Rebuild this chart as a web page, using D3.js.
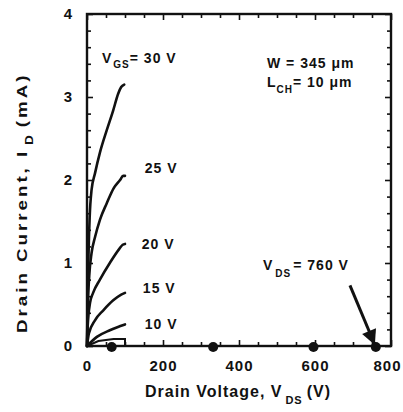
<!DOCTYPE html>
<html>
<head>
<meta charset="utf-8">
<script src="https://cdn.jsdelivr.net/npm/d3@7"></script>
<style>
html,body{margin:0;padding:0;background:#fff;}
svg{display:block;}
text{font-family:"Liberation Sans",Arial,Helvetica,sans-serif;font-weight:bold;fill:#111;}
</style>
</head>
<body>
<svg id="chart" width="403" height="412"></svg>
<script>
// ---- data ----
const xTicks = [0, 200, 400, 600, 800];
const yTicks = [0, 1, 2, 3, 4];
const seriesNames = ["30 V", "25 V", "20 V", "15 V", "10 V", "5 V"];
const vgs30 = [[0,0],[1.5,0.5],[4,1.1],[7,1.55],[12,1.88],[21,2.08],[34,2.33],[52,2.6],[69,2.84],[82,3.04],[90,3.12],[98,3.15]];
const vgs25 = [[0,0],[2,0.45],[6,0.85],[12,1.12],[21,1.31],[34,1.52],[52,1.72],[70,1.9],[87,2.0],[95,2.05],[100,2.05]];
const vgs20 = [[0,0],[2,0.25],[8,0.52],[16,0.64],[34,0.8],[60,1.0],[85,1.17],[94,1.22],[100,1.23]];
const vgs15 = [[0,0],[5,0.15],[21,0.31],[43,0.43],[69,0.55],[90,0.62],[100,0.64]];
const vgs10 = [[0,0],[26,0.11],[60,0.19],[88,0.24],[100,0.26]];
const vgs5  = [[0,0],[30,0.06],[70,0.085],[100,0.085],[100,0]];
const markerVds = [65, 332, 596, 760];
const curveLabels = ["25 V", "20 V", "15 V", "10 V"];
const curveLabelPos = [[152,2.08],[144,1.17],[147,0.64],[152,0.21]];

// ---- layout ----
const svg = d3.select("#chart");
const x = d3.scaleLinear().domain([0, 800]).range([87, 391]);
const y = d3.scaleLinear().domain([0, 4]).range([346, 14]);

const minorX = d3.range(0, 801, 50).filter(v => v % 200 !== 0);
const minorY = d3.range(0, 4.001, 0.2).map(v => +v.toFixed(1)).filter(v => Math.abs(v - Math.round(v)) > 1e-6);

function styleAxis(g){
  g.select(".domain").remove();
  g.selectAll("line").attr("stroke","#111").attr("stroke-width",1.6);
  g.selectAll("text").attr("font-size","15px").attr("letter-spacing","1px")
   .style("font-family",'"Liberation Sans",Arial,sans-serif').style("font-weight","bold").attr("fill","#111");
}

// bottom
const bx = svg.append("g").attr("transform",`translate(0,${y(0)})`)
  .call(d3.axisBottom(x).tickValues(xTicks).tickSize(-6).tickPadding(14).tickFormat(d3.format("d")))
  .call(styleAxis);
bx.selectAll(".tick text").filter(d => d === 800).attr("dx", -4);
svg.append("g").attr("transform",`translate(0,${y(0)})`)
  .call(d3.axisBottom(x).tickValues(minorX).tickSize(-4).tickFormat(""))
  .call(styleAxis);
// top
svg.append("g").attr("transform",`translate(0,${y(4)})`)
  .call(d3.axisTop(x).tickValues(xTicks).tickSize(-6).tickFormat(""))
  .call(styleAxis);
svg.append("g").attr("transform",`translate(0,${y(4)})`)
  .call(d3.axisTop(x).tickValues(minorX).tickSize(-4).tickFormat(""))
  .call(styleAxis);
// left
svg.append("g").attr("transform",`translate(${x(0)},0)`)
  .call(d3.axisLeft(y).tickValues(yTicks).tickSize(-6).tickPadding(14).tickFormat(d3.format("d")))
  .call(styleAxis);
svg.append("g").attr("transform",`translate(${x(0)},0)`)
  .call(d3.axisLeft(y).tickValues(minorY).tickSize(-4).tickFormat(""))
  .call(styleAxis);
// right
svg.append("g").attr("transform",`translate(${x(800)},0)`)
  .call(d3.axisRight(y).tickValues(yTicks).tickSize(-6).tickFormat(""))
  .call(styleAxis);
svg.append("g").attr("transform",`translate(${x(800)},0)`)
  .call(d3.axisRight(y).tickValues(minorY).tickSize(-4).tickFormat(""))
  .call(styleAxis);

// frame
svg.append("rect")
  .attr("x", x(0)).attr("y", y(4))
  .attr("width", x(800)-x(0)).attr("height", y(0)-y(4))
  .attr("fill","none").attr("stroke","#111").attr("stroke-width",2.4);

// curves
const line = d3.line().x(d => x(d[0])).y(d => y(d[1])).curve(d3.curveMonotoneX);
[vgs30, vgs25, vgs20, vgs15, vgs10].forEach(s => {
  svg.append("path").attr("d", line(s)).attr("fill","none")
    .attr("stroke","#111").attr("stroke-width",2.6).attr("stroke-linecap","round");
});
const lineLin = d3.line().x(d => x(d[0])).y(d => y(d[1]));
svg.append("path").attr("d", lineLin(vgs5)).attr("fill","none")
  .attr("stroke","#111").attr("stroke-width",2);

// markers
svg.selectAll("circle.m").data(markerVds).enter().append("circle")
  .attr("class","m").attr("cx", d => x(d)).attr("cy", y(0)+1).attr("r", 5).attr("fill","#111");

// labels for curves
curveLabels.forEach((t,i) => {
  svg.append("text").attr("x", x(curveLabelPos[i][0])).attr("y", y(curveLabelPos[i][1]))
    .attr("font-size","14px").attr("letter-spacing","1px").text(t);
});

// V_GS label
const tg = svg.append("text").attr("x", 102).attr("y", 63).attr("font-size","14px").attr("letter-spacing","1px");
tg.append("tspan").text("V");
tg.append("tspan").attr("dy",5).attr("font-size","10px").attr("dx",1).text("GS");
tg.append("tspan").attr("dy",-5).text("= 30 V");

// W / L
svg.append("text").attr("x",267).attr("y",68).attr("font-size","14px").attr("letter-spacing","1px").text("W = 345 μm");
const tl = svg.append("text").attr("x",267).attr("y",87).attr("font-size","14px").attr("letter-spacing","1px");
tl.append("tspan").text("L");
tl.append("tspan").attr("dy",6).attr("font-size","10px").text("CH");
tl.append("tspan").attr("dy",-6).text("= 10 μm");

// V_DS annotation
const tv = svg.append("text").attr("x",263).attr("y",270).attr("font-size","14px").attr("letter-spacing","1px");
tv.append("tspan").text("V");
tv.append("tspan").attr("dy",7).attr("font-size","10px").attr("dx",2).text("DS");
tv.append("tspan").attr("dy",-7).attr("dx",2).text("= 760 V");

// arrow
const arrowFrom = [692, 0.73], arrowTo = [756, 0.03];
svg.append("defs").append("marker").attr("id","ah").attr("viewBox","0 0 10 10")
  .attr("refX",9).attr("refY",5).attr("markerWidth",5.5).attr("markerHeight",5)
  .attr("orient","auto").attr("markerUnits","strokeWidth")
  .append("path").attr("d","M0,0 L10,5 L0,10 z").attr("fill","#111");
svg.append("line")
  .attr("x1", x(arrowFrom[0])).attr("y1", y(arrowFrom[1]))
  .attr("x2", x(arrowTo[0])).attr("y2", y(arrowTo[1]))
  .attr("stroke","#111").attr("stroke-width",3).attr("marker-end","url(#ah)");

// axis titles
const xt = svg.append("text").attr("x",145).attr("y",397).attr("font-size","16px")
  .attr("textLength",185);
xt.append("tspan").text("Drain Voltage, V");
xt.append("tspan").attr("dy",7).attr("font-size","11px").attr("dx",3).text("DS");
xt.append("tspan").attr("dy",-7).attr("dx",4).text("(V)");

const yt = svg.append("text").attr("transform","translate(27,333) rotate(-90) scale(1.25,1)")
  .attr("x",0).attr("y",0).attr("font-size","15px").attr("textLength",206);
yt.append("tspan").text("Drain Current, I");
yt.append("tspan").attr("dy",6).attr("font-size","11px").attr("dx",3).text("D");
yt.append("tspan").attr("dy",-6).attr("dx",4).text("(mA)");
</script>
</body>
</html>
